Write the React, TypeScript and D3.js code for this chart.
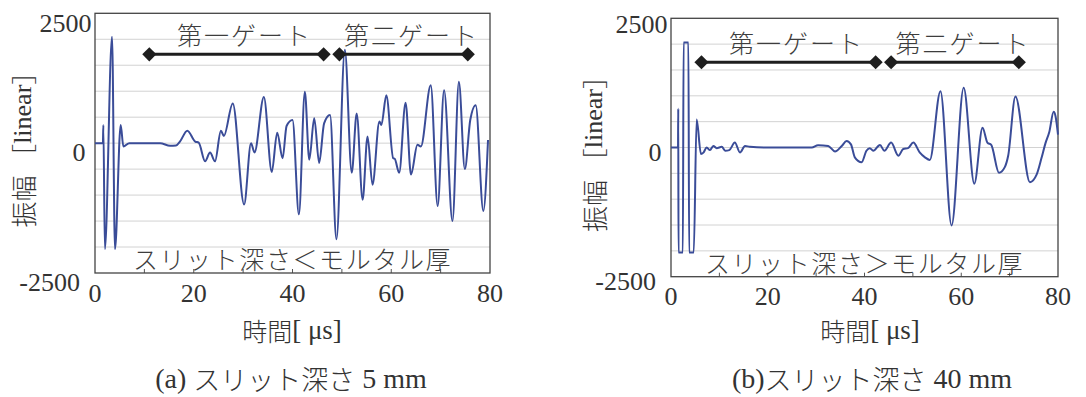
import React from 'react';
import * as d3 from 'd3';

// Axis definitions
const timeTicks = [0, 20, 40, 60, 80];
const minorTicks = [10, 20, 30, 40, 50, 60, 70];
const ampTicks = [2500, 0, -2500];
const gridValues = [-2000, -1500, -1000, -500, 0, 500, 1000, 1500, 2000];
const gateNames = ['第一ゲート', '第二ゲート'];

// (a) slit depth 5 mm — waveform samples (µs, amplitude)
const timeA = [0, 1.6, 1.69, 2.0, 3.45, 4.05, 5.2, 5.75, 6.95, 10, 13.2, 15.2, 16.4, 17.2, 18.7, 20.3, 21, 22.3, 23.3, 24.3, 25.5, 26.1, 27.9, 30.2, 31.6, 32.3, 34.2, 35.8, 36.9, 38.0, 38.8, 40.0, 41.3, 42.5, 43.4, 44.4, 45.4, 46.4, 47.6, 48.9, 50.6, 52.0, 53.0, 54.2, 55.2, 56.2, 57.6, 58.0, 59.0, 60.4, 60.7, 61.6, 62.9, 64.0, 65.3, 66.0, 68.0, 69.4, 70.7, 72.4, 73.7, 74.9, 76.0, 77.1, 78.65, 79.6];
const ampA = [0, 0, 350, -2040, 2050, -2040, 350, -64, 0, 0, 0, -50, -45, 30, 240, 30, 10, -350, -180, -350, 240, 140, 765, -1180, 0, -180, 890, -555, 200, -290, 330, 445, -1370, 990, -320, 480, -380, 380, 540, -1850, 1800, -570, 570, -1090, 130, -800, 415, 350, 920, -290, -300, -570, 780, -605, -30, -64, 1115, -1210, 1020, -1500, 1180, -500, 445, 730, -1305, 60];
const gatesA = [[11.0, 46.3], [49.5, 75.5]];
const gateLevelA = 1710;

// (b) slit depth 40 mm — waveform samples (µs, amplitude)
const timeB = [0, 1.45, 1.5, 1.55, 2.45, 2.6, 3.6, 3.75, 4.7, 5.3, 6.2, 6.7, 7.37, 8.06, 8.75, 9.44, 10.5, 11.2, 12.05, 13.2, 14.26, 15.3, 16.3, 20, 25, 29.1, 30.4, 32.5, 33.9, 35.3, 36.3, 37.2, 38.0, 39.4, 40.4, 41.1, 41.8, 43.2, 44.1, 45.5, 47.0, 48.0, 49.0, 50.1, 51.4, 52.5, 53.5, 55.7, 58.0, 60.5, 62.7, 64.4, 65.4, 66.2, 67.8, 69.0, 69.7, 71.2, 74.2, 75.6, 76.6, 77.4, 78.2, 79.1, 79.5, 80];
const ampB = [0, 0, 750, -2030, -2030, 2030, 2030, -2030, -2030, 540, -127, -100, 0, -50, 30, -13, 13, -63, -50, 95, -95, 30, 13, 0, 0, 0, 45, 30, -76, 30, 127, 60, -190, -285, -63, -13, -63, 50, -63, 95, -160, -30, -13, 95, -95, -190, -240, 1090, -1510, 1155, -700, 380, 95, 50, -490, -380, -160, 985, -670, -520, -200, 80, 300, 690, 600, 250];
const gatesB = [[6.3, 42.3], [45.5, 71.9]];
const gateLevelB = 1650;

const SERIF = "'Liberation Serif', 'Times New Roman', serif";
const GOTHIC = "'Noto Sans CJK JP', 'Noto Sans', sans-serif";
const INK = '#333';
const KANA = '#3d3d3d';
const TRACE = '#3a4c98';

type PanelProps = {
  x0: number; x1: number; y0: number; y1: number;
  time: number[]; amp: number[];
  gates: number[][]; gateLevel: number;
  note: string; labelShift: number;
  titleX: number;
};

function Panel({ x0, x1, y0, y1, time, amp, gates, gateLevel, note, labelShift, titleX }: PanelProps) {
  const x = d3.scaleLinear().domain([0, 80]).range([x0, x1]);
  const y = d3.scaleLinear().domain([-2500, 2500]).range([y1, y0]);
  const trace = d3.line<number>()
    .x((_, i) => x(time[i]))
    .y((d) => y(d))
    .curve(d3.curveMonotoneX)(amp) || '';
  const diamond = d3.symbol(d3.symbolSquare, 100)() || '';
  const labelEnds = [-3.5, -9.5, -15];
  const yMid = (y0 + y1) / 2;

  return (
    <g>
      {gridValues.map((v) => (
        <line key={v} x1={x0} x2={x1} y1={y(v)} y2={y(v)} stroke="#d2d2d2" strokeWidth={1} />
      ))}
      {minorTicks.map((t) => (
        <line key={t} x1={x(t)} x2={x(t)} y1={y1} y2={y1 - 4} stroke="#555" strokeWidth={1} />
      ))}
      <rect x={x0} y={y0} width={x1 - x0} height={y1 - y0} fill="none" stroke="#444" strokeWidth={1.3} />

      <path d={trace} fill="none" stroke={TRACE} strokeWidth={2} strokeLinejoin="round" />

      {gates.map((g, i) => {
        const gy = y(gateLevel);
        const cx = (x(g[0]) + x(g[1])) / 2 + 8;
        return (
          <g key={i}>
            <line x1={x(g[0])} x2={x(g[1])} y1={gy} y2={gy} stroke="#1e1e1e" strokeWidth={3} />
            {g.map((t, j) => (
              <path key={j} d={diamond} transform={`translate(${x(t)},${gy}) rotate(45)`} fill="#1e1e1e" />
            ))}
            <text x={cx} y={gy - 20} textAnchor="middle" dominantBaseline="central"
              fontFamily={GOTHIC} fontWeight={300} fontSize={25} letterSpacing={2} fill={KANA}>{gateNames[i]}</text>
          </g>
        );
      })}

      <text x={(x0 + x1) / 2} y={y1 - 15} textAnchor="middle" dominantBaseline="central"
        fontFamily={GOTHIC} fontWeight={300} fontSize={25} letterSpacing={1.6} fill={KANA}>{note}</text>

      {ampTicks.map((v, i) => (
        <text key={v} x={x0 + labelEnds[i]} y={y(v) + labelShift + (i === 0 ? 1 : 0)} textAnchor="end"
          dominantBaseline="central" fontFamily={SERIF} fontSize={26} fill={INK}>{v}</text>
      ))}
      {timeTicks.map((t) => (
        <text key={t} x={x(t)} y={y1 + 20} textAnchor="middle" dominantBaseline="central"
          fontFamily={SERIF} fontSize={26} fill={INK}>{t}</text>
      ))}

      <text transform={`translate(${titleX},${yMid}) rotate(-90)`} textAnchor="middle"
        dominantBaseline="central" fontSize={26} fill={INK}>
        <tspan fontFamily={GOTHIC} fontWeight={300}>振幅 ［</tspan>
        <tspan fontFamily={SERIF}>linear</tspan>
        <tspan fontFamily={GOTHIC} fontWeight={300}>］</tspan>
      </text>
    </g>
  );
}

export default function App() {
  return (
    <svg width={1086} height={397} style={{ position: 'absolute', left: 0, top: 0, background: '#fff' }}>
      <rect width={1086} height={397} fill="#fff" />
      <Panel x0={95} x1={490} y0={13.3} y1={273} time={timeA} amp={ampA}
        gates={gatesA} gateLevel={gateLevelA} note="スリット深さ＜モルタル厚" labelShift={9} titleX={22} />
      <Panel x0={671} x1={1058} y0={18.3} y1={276.7} time={timeB} amp={ampB}
        gates={gatesB} gateLevel={gateLevelB} note="スリット深さ＞モルタル厚" labelShift={5} titleX={593} />

      <text x={292} y={330} textAnchor="middle" dominantBaseline="central" fontSize={25} fill={INK}>
        <tspan fontFamily={GOTHIC} fontWeight={300}>時間</tspan>
        <tspan fontFamily={SERIF} fontSize={27}>[ μs]</tspan>
      </text>
      <text x={870} y={330} textAnchor="middle" dominantBaseline="central" fontSize={25} fill={INK}>
        <tspan fontFamily={GOTHIC} fontWeight={300}>時間</tspan>
        <tspan fontFamily={SERIF} fontSize={27}>[ μs]</tspan>
      </text>

      <text x={291} y={378} textAnchor="middle" dominantBaseline="central" fontSize={28} fill={INK}>
        <tspan fontFamily={SERIF}>(a) </tspan>
        <tspan fontFamily={GOTHIC} fontWeight={300} fontSize={27}>スリット深さ</tspan>
        <tspan fontFamily={SERIF}> 5 mm</tspan>
      </text>
      <text x={872} y={378} textAnchor="middle" dominantBaseline="central" fontSize={28} fill={INK}>
        <tspan fontFamily={SERIF}>(b)</tspan>
        <tspan fontFamily={GOTHIC} fontWeight={300} fontSize={27}>スリット深さ</tspan>
        <tspan fontFamily={SERIF}> 40 mm</tspan>
      </text>
    </svg>
  );
}
